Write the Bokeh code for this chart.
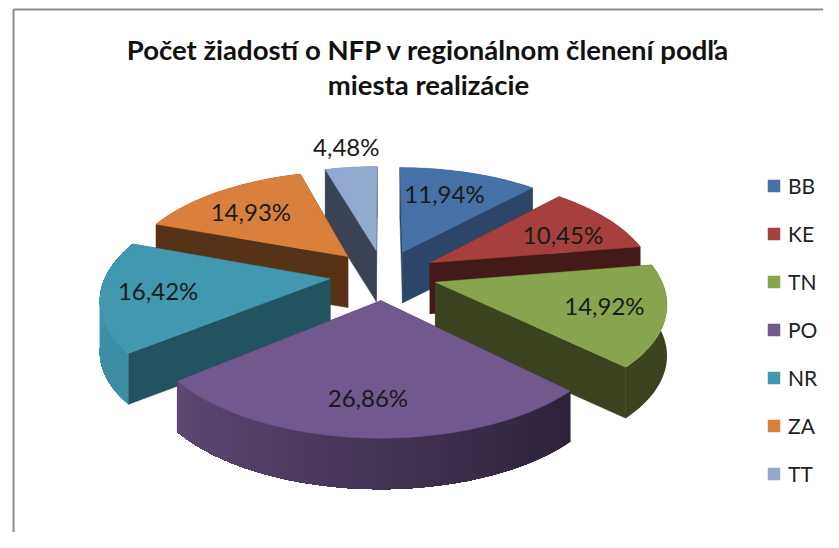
import math
from bokeh.plotting import figure
from bokeh.models import Range1d, Legend, LegendItem
from bokeh.core.properties import value
from bokeh.embed import file_html
from bokeh.resources import INLINE

title_lines = ["Počet žiadostí o NFP v regionálnom členení podľa", "miesta realizácie"]
categories = ["BB", "KE", "TN", "PO", "NR", "ZA", "TT"]
shares = [11.94, 10.45, 14.92, 26.86, 16.42, 14.93, 4.48]
share_labels = ["11,94%", "10,45%", "14,92%", "26,86%", "16,42%", "14,93%", "4,48%"]

top_colors = ["#4571A6", "#A5403D", "#89A44E", "#71588F", "#4198AF", "#D9813C", "#93A9CF"]
wall_colors = ["#2B4669", "#441A18", "#3A431D", "#2C2238", "#225460", "#573216", "#3A4354"]
arc_from = ["#2B4669", "#441A18", "#3A431D", "#2C2238", "#3D8DA3", "#573216", "#3A4354"]
arc_to = ["#2B4669", "#441A18", "#3A431D", "#5E4873", "#3F93AA", "#573216", "#3A4354"]
label_offsets = [(42, -58), (133, -28), (169, 23), (-13, 97), (-172, 12), (-97, -45), (-30, -104)]
draw_order = [6, 0, 5, 1, 4, 2, 3]

CX, CY, R, V, K, DEPTH, EXPLODE = 383, 274, 224, 105, 0.165, 51, 0.24


def project(x, y, z=0.0):
    d = 1 + K * y
    return CX + R * x / d, CY - V * y / d + z


def mix(a, b, t):
    ca = [int(a[i:i + 2], 16) for i in (1, 3, 5)]
    cb = [int(b[i:i + 2], 16) for i in (1, 3, 5)]
    return "#%02x%02x%02x" % tuple(round(p + (q - p) * t) for p, q in zip(ca, cb))


p = figure(width=823, height=532, output_backend="svg", toolbar_location=None,
           x_range=Range1d(0, 823), y_range=Range1d(532, 0), min_border=0,
           x_axis_type=None, y_axis_type=None, outline_line_color=None)
p.grid.visible = False
p.background_fill_color = "white"

p.multi_line([[13, 13], [13, 823]], [[532, 9], [9, 9]], line_color="#8c8c8c", line_width=2)

total = sum(shares)
spans, a = [], 0.0
for s in shares:
    spans.append((a, a + s / total * 2 * math.pi))
    a += s / total * 2 * math.pi

tops = {}
apexes = {}
for i in draw_order:
    a0, a1 = spans[i]
    mid = (a0 + a1) / 2
    ex, ey = EXPLODE * math.sin(mid), EXPLODE * math.cos(mid)
    n = max(6, int((a1 - a0) * 40))
    angs = [a0 + (a1 - a0) * j / n for j in range(n + 1)]
    rim = [(ex + math.sin(t), ey + math.cos(t)) for t in angs]
    upper = [project(x, y) for x, y in rim]
    lower = [project(x, y, DEPTH) for x, y in rim]
    apex_t = project(ex, ey)
    apex_b = project(ex, ey, DEPTH)
    apexes[i] = apex_t
    # radial side walls
    for k in (0, -1):
        xs = [apex_t[0], upper[k][0], lower[k][0], apex_b[0]]
        ys = [apex_t[1], upper[k][1], lower[k][1], apex_b[1]]
        p.patch(xs, ys, fill_color=wall_colors[i], line_color=wall_colors[i], line_width=0.5)
    # outer rim wall: each band runs on to the far end, so no seams show
    steps = range(n) if arc_from[i] != arc_to[i] else [0]
    for j in steps:
        c = mix(arc_from[i], arc_to[i], (j + 0.5) / n)
        xs = [u[0] for u in upper[j:]] + [l[0] for l in reversed(lower[j:])]
        ys = [u[1] for u in upper[j:]] + [l[1] for l in reversed(lower[j:])]
        p.patch(xs, ys, fill_color=c, line_color=None)
    xs = [apex_t[0]] + [u[0] for u in upper]
    ys = [apex_t[1]] + [u[1] for u in upper]
    tops[i] = p.patch(xs, ys, fill_color=top_colors[i], line_color=top_colors[i], line_width=0.5)

lx = [apexes[i][0] + label_offsets[i][0] for i in range(len(shares))]
ly = [apexes[i][1] + label_offsets[i][1] for i in range(len(shares))]
p.text(lx, ly, text=share_labels, text_font=value("Lato"), text_font_size="24px",
       text_color="#1a1a1a", text_align="center", text_baseline="middle")

p.text([428, 428], [49, 84], text=title_lines, text_font=value("Lato"), text_font_size="27.5px",
       text_font_style="bold", text_color="#111111", text_align="center", text_baseline="middle")

legend = Legend(items=[LegendItem(label=categories[i], renderers=[tops[i]]) for i in range(len(categories))],
                location=(766, 46), orientation="vertical", border_line_alpha=0,
                background_fill_alpha=0, padding=0, margin=0, spacing=23,
                glyph_width=15, glyph_height=15, label_height=25, label_standoff=7,
                label_text_font="Lato", label_text_font_size="21px", label_text_color="#222222")
p.add_layout(legend)

open("out.html", "w").write(file_html(p, INLINE))
